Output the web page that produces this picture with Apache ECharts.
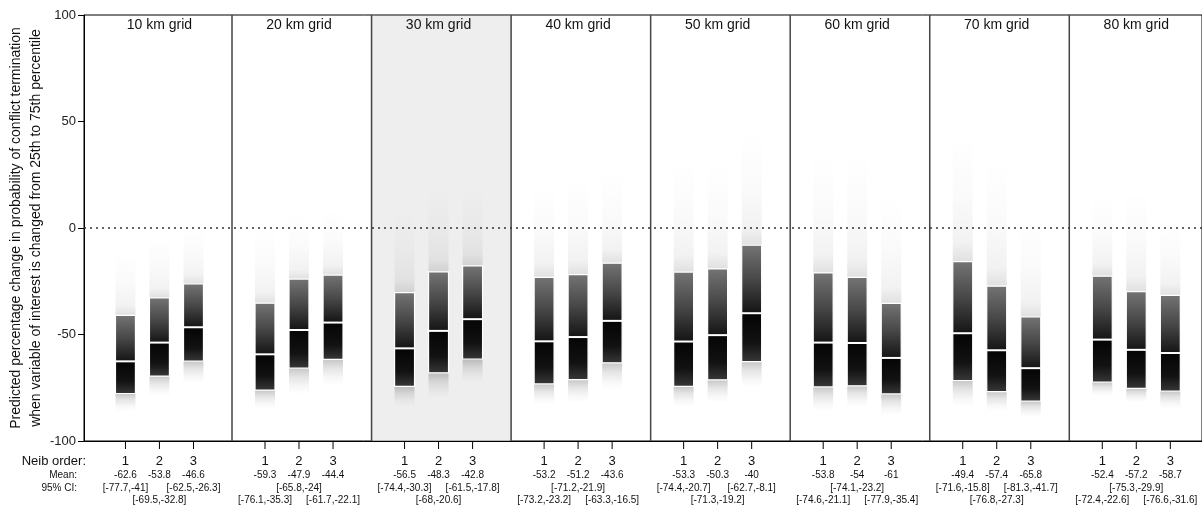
<!DOCTYPE html>
<html><head><meta charset="utf-8">
<script src="https://cdn.jsdelivr.net/npm/echarts@6/dist/echarts.min.js"></script>
<style>html,body{margin:0;padding:0;background:#fff}#c{width:1202px;height:508px}</style>
</head><body><div id="c"></div>
<script>
// ---------------- data ----------------
const gridLabels = ['10 km grid', '20 km grid', '30 km grid', '40 km grid', '50 km grid', '60 km grid', '70 km grid', '80 km grid'];
const neibOrders = ['1', '2', '3'];
const meanValues = [
  [-62.6, -53.8, -46.6],
  [-59.3, -47.9, -44.4],
  [-56.5, -48.3, -42.8],
  [-53.2, -51.2, -43.6],
  [-53.3, -50.3, -40],
  [-53.8, -54, -61],
  [-49.4, -57.4, -65.8],
  [-52.4, -57.2, -58.7]
];
const ciLower = [
  [-77.7, -69.5, -62.5],
  [-76.1, -65.8, -61.7],
  [-74.4, -68, -61.5],
  [-73.2, -71.2, -63.3],
  [-74.4, -71.3, -62.7],
  [-74.6, -74.1, -77.9],
  [-71.6, -76.8, -81.3],
  [-72.4, -75.3, -76.6]
];
const ciUpper = [
  [-41, -32.8, -26.3],
  [-35.3, -24, -22.1],
  [-30.3, -20.6, -17.8],
  [-23.2, -21.9, -16.5],
  [-20.7, -19.2, -8.1],
  [-21.1, -23.2, -35.4],
  [-15.8, -27.3, -41.7],
  [-22.6, -29.9, -31.6]
];
// visible extent of the simulated draws (cloud of faint dots)
const drawsTop = [
  [-10, -3, 2],
  [0, 6, 9],
  [10, 20, 20],
  [20, 24, 26],
  [32, 30, 45],
  [35, 35, 15],
  [45, 32, 5],
  [15, 18, 5]
];
const drawsBottom = [
  [-86, -79, -73],
  [-85, -78, -74],
  [-84, -80, -73],
  [-83, -82, -76],
  [-84, -82, -75],
  [-86, -84, -88],
  [-84, -86, -89],
  [-79, -82, -85]
];
const highlightedPanel = 2;
const yTickValues = [-100, -50, 0, 50, 100];
const yTitle = ['Predicted percentage change in probability of conflict termination',
                'when variable of interest is changed from 25th to 75th percentile'];

// ---------------- layout ----------------
const FONT = '"Liberation Sans", Arial, Helvetica, sans-serif';
const ORDER_OFFSET = [0.2365, 0.48, 0.724];
const BOX_W = 0.143;

const boxData = [];
gridLabels.forEach((g, p) => {
  neibOrders.forEach((o, k) => {
    boxData.push([p + ORDER_OFFSET[k], meanValues[p][k], ciLower[p][k], ciUpper[p][k],
                  drawsTop[p][k], drawsBottom[p][k], p, k]);
  });
});

function grad(stops) {
  return new echarts.graphic.LinearGradient(0, 0, 0, 1, stops);
}

function renderBox(params, api) {
  const x = api.value(0), mean = api.value(1), lo = api.value(2), hi = api.value(3);
  const top = api.value(4), bot = api.value(5), p = api.value(6), k = api.value(7);
  const w = api.size([BOX_W, 0])[0];
  const c = api.coord([x, mean]);
  const cx = c[0], yMean = c[1];
  const yLo = api.coord([x, lo])[1], yHi = api.coord([x, hi])[1];
  const yTop = api.coord([x, top])[1], yBot = api.coord([x, bot])[1];
  const yAx = api.coord([x, -100])[1];
  const x0 = cx - w / 2;
  const mf = (yMean - yHi) / (yLo - yHi);
  const row = ((p + k) % 2 === 0) ? 0 : 1;
  const children = [
    { type: 'rect', shape: { x: x0, y: yTop, width: w, height: yHi - yTop },
      style: { fill: grad([
        { offset: 0, color: 'rgba(0,0,0,0)' },
        { offset: 0.5, color: 'rgba(0,0,0,0.018)' },
        { offset: 0.85, color: 'rgba(0,0,0,0.05)' },
        { offset: 1, color: 'rgba(0,0,0,0.12)' }]) } },
    { type: 'rect', shape: { x: x0, y: yLo, width: w, height: yBot - yLo },
      style: { fill: grad([
        { offset: 0, color: 'rgba(0,0,0,0.22)' },
        { offset: 0.35, color: 'rgba(0,0,0,0.1)' },
        { offset: 0.7, color: 'rgba(0,0,0,0.03)' },
        { offset: 1, color: 'rgba(0,0,0,0)' }]) } },
    { type: 'rect', shape: { x: x0, y: yHi, width: w, height: yLo - yHi },
      style: { stroke: '#fff', lineWidth: 1.2, fill: grad([
        { offset: 0, color: '#747474' },
        { offset: mf * 0.5, color: '#484848' },
        { offset: Math.max(0, mf - 0.01), color: '#161616' },
        { offset: Math.min(1, mf + 0.01), color: '#050505' },
        { offset: mf + (1 - mf) * 0.6, color: '#121212' },
        { offset: 1, color: '#383838' }]) } },
    { type: 'line', shape: { x1: x0, y1: yMean, x2: x0 + w, y2: yMean },
      style: { stroke: '#fff', lineWidth: 2 } },
    { type: 'line', shape: { x1: cx, y1: yAx, x2: cx, y2: yAx + 8 },
      style: { stroke: '#000', lineWidth: 1 } },
    { type: 'text', style: { text: neibOrders[k], x: cx, y: yAx + 20, align: 'center', verticalAlign: 'middle',
      font: '13px ' + FONT, fill: '#111' } },
    { type: 'text', style: { text: String(mean), x: cx, y: yAx + 34.5, align: 'center', verticalAlign: 'middle',
      font: '10px ' + FONT, fill: '#111' } },
    { type: 'text', style: { text: '[' + lo + ',' + hi + ']', x: cx, y: yAx + (row === 0 ? 47.5 : 59),
      align: 'center', verticalAlign: 'middle', font: '10px ' + FONT, fill: '#111' } }
  ];
  return { type: 'group', children };
}

const chart = echarts.init(document.getElementById('c'), null, { renderer: 'canvas' });
chart.setOption({
  backgroundColor: '#fff',
  animation: false,
  grid: { left: 84, right: -2, top: 15, bottom: 67, show: true, borderColor: '#000', borderWidth: 1, backgroundColor: 'transparent' },
  xAxis: {
    type: 'value', min: -0.0606, max: 7.951,
    axisLine: { show: true, onZero: false, lineStyle: { color: '#000', width: 1 } },
    axisTick: { show: false }, axisLabel: { show: false }, splitLine: { show: false }
  },
  yAxis: {
    type: 'value', min: -100, max: 100, interval: 50,
    axisLine: { show: true, onZero: false, lineStyle: { color: '#000', width: 1 } },
    axisTick: { show: true, inside: false, length: 6, lineStyle: { color: '#000' } },
    axisLabel: { fontSize: 13, color: '#222', margin: 8, fontFamily: FONT,
      formatter: v => yTickValues.includes(v) ? String(v) : '' },
    splitLine: { show: false }
  },
  graphic: [
    { type: 'text', x: 26, y: 228, rotation: Math.PI / 2,
      style: { text: yTitle.join('\n'), align: 'center', verticalAlign: 'middle', lineHeight: 20,
        font: '14px ' + FONT, fill: '#111' } },
    { type: 'text', x: 86, y: 461, style: { text: 'Neib order:', align: 'right', verticalAlign: 'middle', font: '13px ' + FONT, fill: '#111' } },
    { type: 'text', x: 77, y: 475.5, style: { text: 'Mean:', align: 'right', verticalAlign: 'middle', font: '10px ' + FONT, fill: '#111' } },
    { type: 'text', x: 77, y: 488.5, style: { text: '95% CI:', align: 'right', verticalAlign: 'middle', font: '10px ' + FONT, fill: '#111' } }
  ],
  series: [
    {
      type: 'custom', z: 1, clip: true,
      data: [[highlightedPanel, highlightedPanel + 1]],
      renderItem: (params, api) => {
        const a = api.coord([api.value(0), 100]);
        const b = api.coord([api.value(1), -100]);
        return { type: 'rect', shape: { x: a[0], y: a[1] + 1, width: b[0] - a[0], height: b[1] - a[1] - 1.5 },
          style: { fill: '#eeeeee' } };
      }
    },
    {
      type: 'custom', z: 3,
      data: gridLabels.slice(1).map((g, i) => [i + 1]),
      renderItem: (params, api) => {
        const a = api.coord([api.value(0), 100]);
        const b = api.coord([api.value(0), -100]);
        return { type: 'line', shape: { x1: a[0], y1: a[1], x2: b[0], y2: b[1] },
          style: { stroke: '#444', lineWidth: 1.5 } };
      },
      markLine: {
        silent: true, symbol: 'none', label: { show: false },
        lineStyle: { color: '#333', type: [2, 4], width: 1.5 },
        data: [{ yAxis: 0 }]
      }
    },
    {
      type: 'custom', z: 4,
      data: gridLabels.map((g, i) => [i + ORDER_OFFSET[1], 100, i]),
      renderItem: (params, api) => {
        const a = api.coord([api.value(0), api.value(1)]);
        return { type: 'text', style: { text: gridLabels[api.value(2)], x: a[0], y: a[1] + 10.5,
          align: 'center', verticalAlign: 'middle', font: '14px ' + FONT, fill: '#111' } };
      }
    },
    {
      type: 'custom', z: 5, clip: false,
      data: boxData,
      renderItem: renderBox
    }
  ]
});
</script>
</body></html>
